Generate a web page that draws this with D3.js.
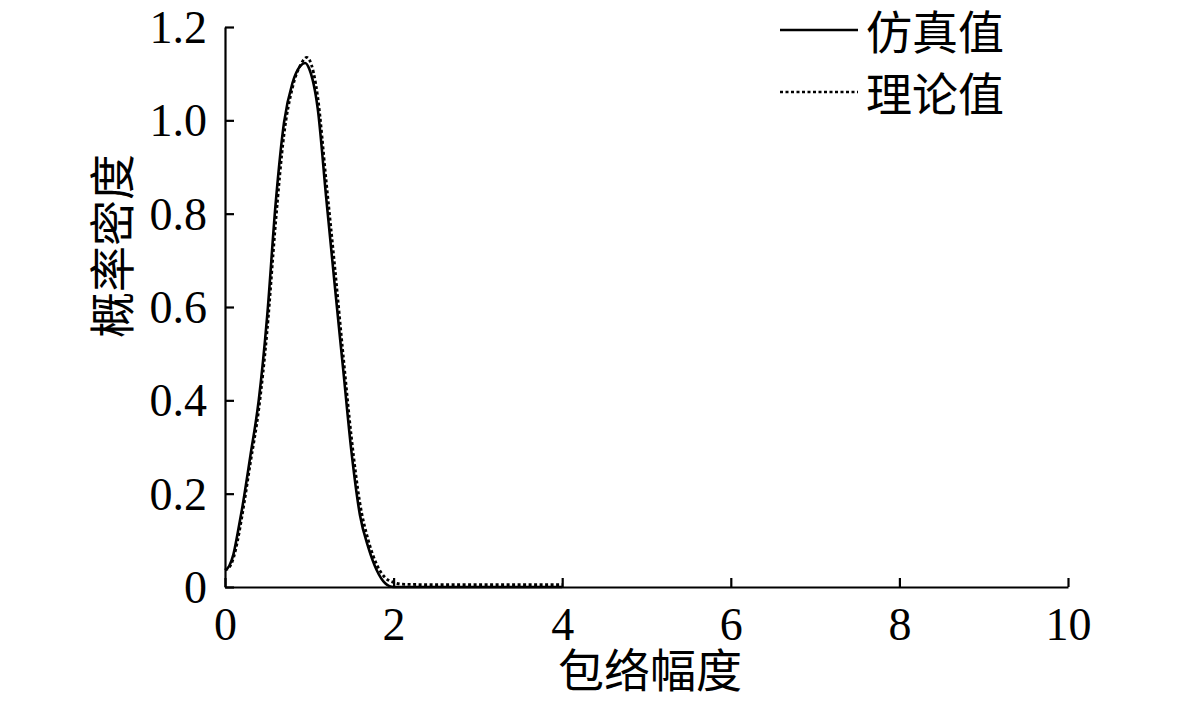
<!DOCTYPE html>
<html lang="zh">
<head>
<meta charset="UTF-8">
<title>包络幅度 概率密度</title>
<script src="https://d3js.org/d3.v7.min.js"></script>
<style>
    body { margin: 0; background: #fff; }
    svg { display: block; }
    .tick-label { font-family: 'Liberation Serif', 'Times New Roman', serif; font-size: 46px; fill: #000; }
    .cn { font-family: 'Noto Sans CJK SC', sans-serif; font-size: 46px; fill: #000; }
</style>
</head>
<body>
<svg id="chart" width="1181" height="701"></svg>
<script>
    // values
    const simX = [0, 0.05, 0.1, 0.15, 0.2, 0.3, 0.4, 0.5, 0.6, 0.7, 0.8, 0.9, 0.95, 1.0, 1.1, 1.2, 1.3, 1.4, 1.5, 1.6, 1.7, 1.8, 1.9, 1.95, 2.0, 3.0, 4.0];
    const simY = [0.036, 0.045, 0.07, 0.115, 0.165, 0.28, 0.40, 0.58, 0.82, 0.995, 1.08, 1.118, 1.123, 1.11, 1.025, 0.835, 0.65, 0.47, 0.29, 0.155, 0.085, 0.036, 0.008, 0.002, 0, 0, 0];

    const theoX = [0, 0.05, 0.1, 0.15, 0.2, 0.3, 0.4, 0.5, 0.6, 0.7, 0.8, 0.9, 0.97, 1.0, 1.1, 1.2, 1.3, 1.4, 1.5, 1.6, 1.7, 1.8, 1.9, 2.0, 2.1, 2.5, 3.0, 3.5, 4.0];
    const theoY = [0.036, 0.042, 0.062, 0.10, 0.15, 0.265, 0.38, 0.55, 0.78, 0.97, 1.07, 1.12, 1.135, 1.13, 1.05, 0.87, 0.69, 0.50, 0.32, 0.18, 0.10, 0.048, 0.02, 0.01, 0.006, 0.005, 0.005, 0.005, 0.005];

    const xTicks = [0, 2, 4, 6, 8, 10];
    const yTicks = [0, 0.2, 0.4, 0.6, 0.8, 1.0, 1.2];
    const yTickLabels = ["0", "0.2", "0.4", "0.6", "0.8", "1.0", "1.2"];
    const seriesNames = ["仿真值", "理论值"];

    const svg = d3.select("#chart");
    const x = d3.scaleLinear().domain([0, 10]).range([225, 1068]);
    const y = d3.scaleLinear().domain([0, 1.2]).range([587, 27]);

    // axes, ticks pointing inward
    const xAxis = svg.append("g").attr("transform", "translate(0," + y(0) + ")")
        .call(d3.axisBottom(x).tickValues(xTicks).tickSizeInner(-9).tickSizeOuter(0).tickFormat(d3.format("d")));
    const yAxis = svg.append("g").attr("transform", "translate(" + x(0) + ",0)")
        .call(d3.axisLeft(y).tickValues(yTicks).tickSizeInner(-9).tickSizeOuter(0).tickPadding(18)
            .tickFormat((d, i) => yTickLabels[i]));

    [xAxis, yAxis].forEach(a => {
        a.select(".domain").attr("stroke", "#000").attr("stroke-width", 2.2);
        a.selectAll(".tick line").attr("stroke", "#000").attr("stroke-width", 2.2);
        a.selectAll(".tick text").attr("class", "tick-label").attr("font-size", null).attr("font-family", null);
    });
    xAxis.selectAll(".tick text").attr("dy", "0.71em").attr("y", 20);
    yAxis.selectAll(".tick text").attr("dy", "0.34em");

    const line = d3.line().x(d => x(d[0])).y(d => y(d[1])).curve(d3.curveMonotoneX);

    svg.append("path")
        .datum(theoX.map((v, i) => [v, theoY[i]]))
        .attr("d", line)
        .attr("fill", "none")
        .attr("stroke", "#000")
        .attr("stroke-width", 2.8)
        .attr("stroke-dasharray", "3,2.5");

    svg.append("path")
        .datum(simX.map((v, i) => [v, simY[i]]))
        .attr("d", line)
        .attr("fill", "none")
        .attr("stroke", "#000")
        .attr("stroke-width", 2.6);

    // axis titles
    svg.append("text").attr("class", "cn")
        .attr("x", 650).attr("y", 687)
        .attr("text-anchor", "middle")
        .text("包络幅度");
    svg.append("text").attr("class", "cn")
        .attr("transform", "translate(129,246) rotate(-90)")
        .attr("text-anchor", "middle")
        .text("概率密度");

    // legend
    const legend = svg.append("g");
    const legendRows = [{ name: seriesNames[0], dash: null, ly: 30 }, { name: seriesNames[1], dash: "3,2.5", ly: 92 }];
    legendRows.forEach(r => {
        legend.append("line")
            .attr("x1", 780).attr("x2", 858).attr("y1", r.ly).attr("y2", r.ly)
            .attr("stroke", "#000").attr("stroke-width", 2.4)
            .attr("stroke-dasharray", r.dash);
        legend.append("text").attr("class", "cn")
            .attr("x", 866).attr("y", r.ly + 19)
            .text(r.name);
    });
</script>
</body>
</html>
